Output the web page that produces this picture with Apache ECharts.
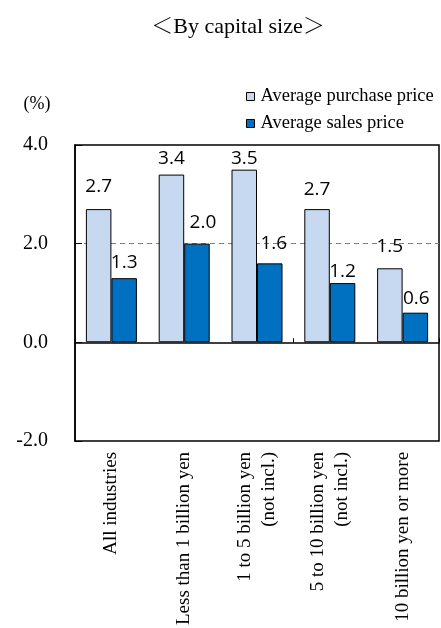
<!DOCTYPE html>
<html>
<head>
<meta charset="utf-8">
<script src="https://cdn.jsdelivr.net/npm/echarts@6/dist/echarts.min.js"></script>
<style>
  html, body { margin: 0; padding: 0; background: #fff; }
  #chart { width: 441px; height: 628px; }
</style>
</head>
<body>
<div id="chart"></div>
<script>
// Price change by capital size (%)
const categories = [
  'All industries',
  'Less than 1 billion yen',
  '1 to 5 billion yen\n(not incl.)',
  '5 to 10 billion yen\n(not incl.)',
  '10 billion yen or more'
];
const purchasePrice = [2.7, 3.4, 3.5, 2.7, 1.5];
const salesPrice = [1.3, 2.0, 1.6, 1.2, 0.6];
const seriesNames = ['Average purchase price', 'Average sales price'];
const yTicks = [-2, 0, 2, 4];

// Fine placement of the value labels above each bar
const purchaseLabelShift = [[0, -8], [0, -1], [0, 3], [0, -5], [0, -7]];
const salesLabelShift = [[0, -1], [6, -7], [4, -5], [0, 3], [1, 0]];

const SERIF = '"Liberation Serif", "Times New Roman", "Noto Serif CJK JP", "Noto Sans CJK JP", serif';
const SANS = '"Open Sans", "Noto Sans", sans-serif';

function barData(values, shifts) {
  return values.map((v, i) => ({
    value: v,
    label: { offset: shifts[i] }
  }));
}

const valueLabel = {
  show: true,
  position: 'top',
  distance: 5,
  fontFamily: SANS,
  fontSize: 19,
  color: '#000',
  formatter: p => p.value.toFixed(1)
};

const chart = echarts.init(document.getElementById('chart'), null, { renderer: 'canvas' });

chart.setOption({
  animation: false,
  backgroundColor: '#fff',
  graphic: [
    {
      type: 'text',
      x: 238, y: 27,
      style: {
        text: '＜By capital size＞', font: '22px ' + SERIF, fill: '#000',
        align: 'center', verticalAlign: 'middle'
      }
    },
    {
      type: 'text',
      x: 37, y: 104,
      style: {
        text: '(%)', font: '18px ' + SERIF, fill: '#000',
        align: 'center', verticalAlign: 'middle'
      }
    }
  ],
  legend: {
    orient: 'vertical',
    left: 246,
    top: 87,
    itemWidth: 8,
    itemHeight: 8,
    itemGap: 8,
    icon: 'rect',
    padding: 0,
    itemStyle: { borderColor: '#000', borderWidth: 1 },
    textStyle: {
      fontFamily: SERIF, fontSize: 18.5, lineHeight: 19,
      color: '#000', padding: [0, 0, 0, 1]
    },
    data: seriesNames
  },
  grid: {
    left: 75, right: 2, top: 145, bottom: 181,
    show: true,
    borderColor: '#000',
    borderWidth: 1.5,
    containLabel: false
  },
  xAxis: [
    {
      // category names along the bottom edge of the frame
      type: 'category',
      data: categories,
      position: 'bottom',
      axisLine: { show: false, onZero: false },
      axisTick: { show: false },
      splitLine: { show: false },
      axisLabel: {
        interval: 0,
        rotate: 90,
        margin: 11,
        fontFamily: SERIF,
        fontSize: 19,
        lineHeight: 24,
        color: '#000'
      }
    },
    {
      // zero baseline with small ticks between categories
      type: 'category',
      data: categories,
      position: 'bottom',
      axisLine: { show: true, onZero: true, lineStyle: { color: '#000', width: 1.5 } },
      axisTick: { show: true, inside: true, length: 4, lineStyle: { color: '#000', width: 1 } },
      axisLabel: { show: false },
      splitLine: { show: false }
    }
  ],
  yAxis: {
    type: 'value',
    min: yTicks[0],
    max: yTicks[yTicks.length - 1],
    interval: 2,
    axisLine: { show: true, lineStyle: { color: '#000', width: 1.5 } },
    axisTick: { show: true, inside: true, length: 7, lineStyle: { color: '#000', width: 1 } },
    axisLabel: {
      margin: 27,
      fontFamily: SERIF,
      fontSize: 20,
      color: '#000',
      formatter: v => v.toFixed(1)
    },
    splitLine: {
      show: true,
      lineStyle: {
        // only the 2.0 level carries a dashed guide line
        color: yTicks.map(t => (t === 2 ? '#808080' : 'rgba(0,0,0,0)')),
        type: [5, 4],
        width: 1
      }
    }
  },
  series: [
    {
      name: seriesNames[0],
      type: 'bar',
      xAxisIndex: 0,
      barWidth: 25.5,
      barGap: '0%',
      itemStyle: { color: '#c6d9f1', borderColor: '#000', borderWidth: 1 },
      label: valueLabel,
      data: barData(purchasePrice, purchaseLabelShift)
    },
    {
      name: seriesNames[1],
      type: 'bar',
      xAxisIndex: 0,
      barWidth: 25.5,
      barGap: '0%',
      itemStyle: { color: '#0070c0', borderColor: '#000', borderWidth: 1 },
      label: valueLabel,
      data: barData(salesPrice, salesLabelShift)
    }
  ]
});
</script>
</body>
</html>
